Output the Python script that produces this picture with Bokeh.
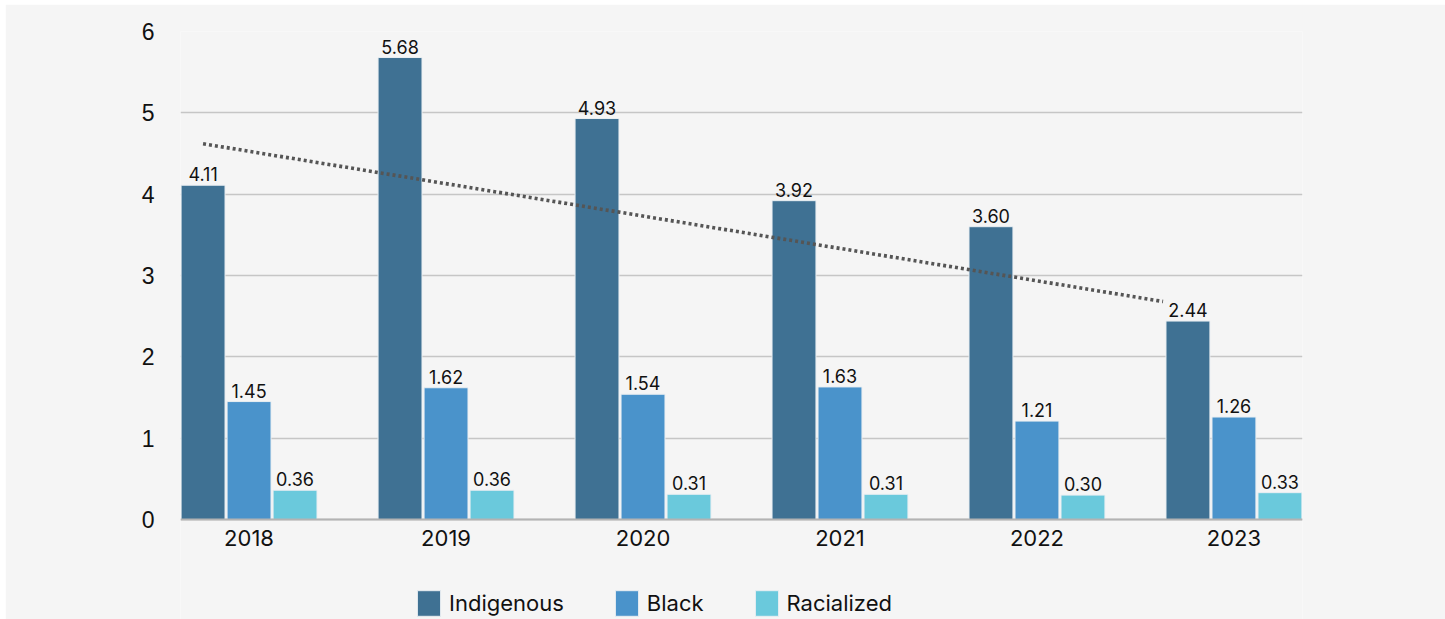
from bokeh.plotting import figure
from bokeh.models import ColumnDataSource, FixedTicker, Legend, LegendItem, Range1d, Span
from bokeh.core.properties import value
from bokeh.embed import file_html
from bokeh.resources import INLINE

years = ["2018", "2019", "2020", "2021", "2022", "2023"]
indigenous = [4.11, 5.68, 4.93, 3.92, 3.60, 2.44]
black = [1.45, 1.62, 1.54, 1.63, 1.21, 1.26]
racialized = [0.36, 0.36, 0.31, 0.31, 0.30, 0.33]
series_names = ["Indigenous", "Black", "Racialized"]
# dotted trend line (as drawn on the chart): start/end positions in category units and values
trend_pos = [-0.2335, 4.64]
trend_vals = [4.62, 2.68]
y_ticks = [0, 1, 2, 3, 4, 5, 6]

colors = ["#3f7193", "#4a93cb", "#6ac9dc"]
offsets = [-0.2335, 0.0, 0.2335]
bar_w = 0.223
FONT = "Inter"
BG = "#f5f5f5"

p = figure(width=1440, height=615, output_backend="svg", toolbar_location=None,
           x_range=Range1d(-0.348, 5.348), y_range=Range1d(-1.2295, 6),
           x_axis_location=None,
           min_border_left=175, min_border_right=143, min_border_top=27, min_border_bottom=0)
p.margin = (4, 0, 0, 5)
p.background_fill_color = BG
p.border_fill_color = BG
p.outline_line_color = None

idx = list(range(len(years)))
renderers = []
for s, vals, col, off in zip(series_names, [indigenous, black, racialized], colors, offsets):
    src = ColumnDataSource(dict(x=[i + off for i in idx], top=vals,
                                lab=["%.2f" % v for v in vals]))
    r = p.vbar(x="x", top="top", width=bar_w, bottom=0, source=src,
               fill_color=col, line_color="#e9eef2", line_width=1)
    renderers.append(r)
    p.text(x="x", y="top", text="lab", source=src, text_align="center",
           text_baseline="bottom", y_offset=-4, text_font=value(FONT),
           text_font_size="18px", text_color="#111111")

p.line(trend_pos, trend_vals, line_color="#555555", line_width=3.6, line_dash="3 3")

# category (year) labels under the baseline
ysrc = ColumnDataSource(dict(x=idx, y=[0] * len(idx), t=years))
p.text(x="x", y="y", text="t", source=ysrc, text_align="center", text_baseline="top",
       y_offset=10, text_font=value(FONT), text_font_size="22px", text_color="#111111")

p.yaxis.ticker = FixedTicker(ticks=y_ticks)
p.yaxis.axis_line_color = None
p.yaxis.major_tick_line_color = None
p.yaxis.minor_tick_line_color = None
p.yaxis.major_label_text_font = "Liberation Sans"
p.yaxis.major_label_text_font_size = "23px"
p.yaxis.major_label_text_color = "#111111"
p.yaxis.major_label_standoff = 20

p.xgrid.grid_line_color = None
p.ygrid.ticker = FixedTicker(ticks=y_ticks)
p.ygrid.grid_line_color = "#c6c6c6"
p.ygrid.grid_line_width = 1.6

p.add_layout(Span(location=0, dimension="width", line_color="#b3b3b3", line_width=2))

legend = Legend(items=[LegendItem(label=n, renderers=[r]) for n, r in zip(series_names, renderers)],
                orientation="horizontal", location=(234, 0),
                glyph_width=29, glyph_height=32, label_standoff=6, spacing=48,
                padding=0, margin=0, background_fill_alpha=0, border_line_color=None,
                label_text_font=FONT, label_text_font_size="22px", label_text_color="#111111",
                label_height=30)
p.add_layout(legend, "center")

open("out.html", "w").write(file_html(p, INLINE))
